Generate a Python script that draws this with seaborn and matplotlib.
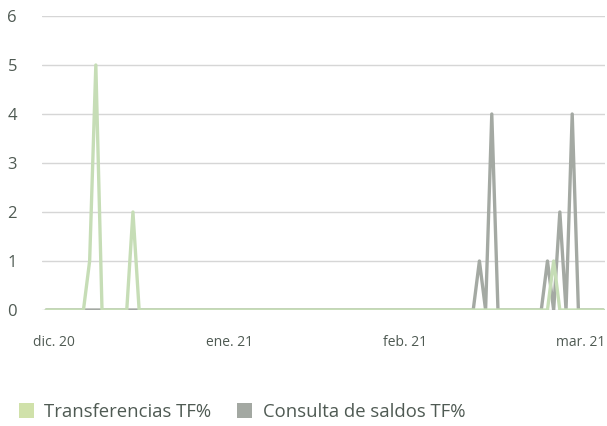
import numpy as np
import pandas as pd
import matplotlib
matplotlib.use("Agg")
import matplotlib.pyplot as plt
from matplotlib.patches import Patch
import seaborn as sns

# ---- data (daily points, index 0..90) ----
n_points = 91
transfer_spikes = {7: 1, 8: 5, 14: 2, 82: 1}
consulta_spikes = {70: 1, 72: 4, 81: 1, 83: 2, 85: 4}
series_names = ["Transferencias TF%", "Consulta de saldos TF%"]
tick_labels = ["dic. 20", "ene. 21", "feb. 21", "mar. 21"]

transfer = np.zeros(n_points)
for k, v in transfer_spikes.items():
    transfer[k] = v
consulta = np.zeros(n_points)
for k, v in consulta_spikes.items():
    consulta[k] = v

df = pd.DataFrame({"idx": np.arange(n_points),
                   series_names[0]: transfer,
                   series_names[1]: consulta})

sns.set_style("white")
plt.rcParams['font.family'] = ['Open Sans', 'DejaVu Sans']

green = "#c6ddb6"
grey = "#a4a9a3"
green_leg = "#d0e1aa"
grey_leg = "#a3a8a2"
text_c = "#4f5a53"

fig = plt.figure(figsize=(6.07, 4.26), dpi=100)
ax = fig.add_axes([42/607, 1 - 310/426, (605-42)/607, (310-16)/426])

sns.lineplot(data=df, x="idx", y=series_names[1], ax=ax, color=grey, lw=2.4)
sns.lineplot(data=df, x="idx", y=series_names[0], ax=ax, color=green, lw=2.4)

ax.set_xlim(-0.7, n_points - 0.7)
ax.set_ylim(0, 6)
ax.set_yticks(range(0, 7))
ax.set_yticklabels([str(i) for i in range(0, 7)], fontsize=12, color=text_c)
ax.set_xticks(np.linspace(1.3, 86.3, len(tick_labels)))
ax.set_xticklabels(tick_labels, fontsize=10, color=text_c)
ax.tick_params(axis='y', length=0, pad=18)
ax.tick_params(axis='x', length=0, pad=18)
ax.set_xlabel("")
ax.set_ylabel("")
ax.yaxis.grid(True, color="#d6d6d6", lw=1)
ax.set_axisbelow(True)
for s in ax.spines.values():
    s.set_visible(False)

handles = [Patch(facecolor=green_leg, edgecolor='none'),
           Patch(facecolor=grey_leg, edgecolor='none')]
fig.legend(handles, series_names, loc='center left',
           bbox_to_anchor=(19/607, 1 - 412/426), frameon=False, ncol=2,
           fontsize=13.3, handlelength=0.82, handleheight=0.82,
           handletextpad=0.55, columnspacing=1.4, borderpad=0,
           borderaxespad=0, labelcolor=text_c)

fig.savefig("out.png", dpi=100)
